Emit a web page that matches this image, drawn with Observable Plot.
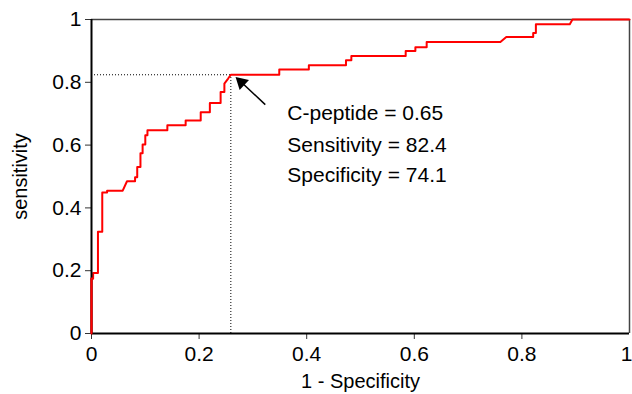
<!DOCTYPE html>
<html>
<head>
<meta charset="utf-8">
<script src="https://cdn.jsdelivr.net/npm/d3@7"></script>
<script src="https://cdn.jsdelivr.net/npm/@observablehq/plot@0.6"></script>
<style>
  html, body { margin: 0; padding: 0; background: #fff; }
  #chart svg { display: block; }
</style>
</head>
<body>
<div id="chart"></div>
<script>
// ROC curve vertices (1 - specificity, sensitivity)
const fpr = [0, 0, 0.003, 0.003, 0.012, 0.012, 0.020, 0.020, 0.029, 0.029, 0.058, 0.066, 0.081, 0.081, 0.085, 0.085, 0.091, 0.091, 0.095, 0.095, 0.100, 0.100, 0.104, 0.104, 0.141, 0.141, 0.175, 0.175, 0.203, 0.203, 0.220, 0.220, 0.240, 0.240, 0.247, 0.247, 0.254, 0.259, 0.349, 0.349, 0.404, 0.404, 0.473, 0.473, 0.483, 0.483, 0.584, 0.584, 0.602, 0.602, 0.623, 0.623, 0.760, 0.771, 0.821, 0.821, 0.826, 0.826, 0.889, 0.894, 1];
const tpr = [0, 0.175, 0.175, 0.193, 0.193, 0.324, 0.324, 0.449, 0.449, 0.455, 0.455, 0.485, 0.485, 0.498, 0.498, 0.530, 0.530, 0.574, 0.574, 0.602, 0.602, 0.631, 0.631, 0.647, 0.647, 0.663, 0.663, 0.678, 0.678, 0.705, 0.705, 0.734, 0.734, 0.769, 0.769, 0.796, 0.812, 0.824, 0.824, 0.841, 0.841, 0.854, 0.854, 0.870, 0.870, 0.884, 0.884, 0.900, 0.900, 0.912, 0.912, 0.928, 0.928, 0.944, 0.944, 0.957, 0.957, 0.985, 0.985, 1, 1];

// optimal cut-off point
const cutFpr = [0.259];
const cutTpr = [0.824];

// annotation text
const annoLines = ["C-peptide = 0.65", "Sensitivity = 82.4", "Specificity = 74.1"];
const annoX = [0.364, 0.364, 0.364];
const annoY = [0.700, 0.599, 0.503];

// arrow (tail -> head) in data units
const arrowTail = [0.323, 0.729];
const arrowHead = [0.2786, 0.800];

const xTicks = [0, 0.2, 0.4, 0.6, 0.8];
const xTickLast = [1];
const yTicks = [0, 0.2, 0.4, 0.6, 0.8, 1];
const tickLabel = d => d3.format("~g")(d);

const roc = fpr.map((f, i) => ({fpr: f, tpr: tpr[i]}));
const anno = annoLines.map((t, i) => ({text: t, x: annoX[i], y: annoY[i]}));

const font = "'Liberation Sans', Arial, Helvetica, sans-serif";

const chart = Plot.plot({
  width: 632,
  height: 394,
  marginLeft: 91,
  marginRight: 3,
  marginTop: 19,
  marginBottom: 61,
  style: {fontFamily: font, fontSize: "20px", color: "#000", background: "#fff"},
  x: {domain: [0, 1]},
  y: {domain: [0, 1]},
  marks: [
    // frame: top & right thin gray
    Plot.ruleY([1], {stroke: "#444", strokeWidth: 1.5}),
    Plot.ruleX([1], {stroke: "#444", strokeWidth: 1.5}),
    // dotted guides
    Plot.ruleY(cutTpr, {x1: 0, x2: cutFpr[0], stroke: "#000", strokeWidth: 1, strokeDasharray: "1,2"}),
    Plot.ruleX(cutFpr, {y1: 0, y2: cutTpr[0], stroke: "#000", strokeWidth: 1, strokeDasharray: "1,2"}),
    // ROC curve
    Plot.line(roc, {x: "fpr", y: "tpr", stroke: "red", strokeWidth: 2}),
    // axes
    Plot.axisX({ticks: xTicks, tickFormat: tickLabel, tickSize: 6, tickPadding: 7, label: null, stroke: "#333", fontSize: 21}),
    Plot.axisX({ticks: xTickLast, tickFormat: tickLabel, tickSize: 6, tickPadding: 7, label: null, stroke: "#333", fontSize: 21, textAnchor: "end", dx: 3}),
    Plot.axisY({ticks: yTicks, tickFormat: tickLabel, tickSize: 6, tickPadding: 4, label: null, stroke: "#333", fontSize: 21}),
    Plot.ruleY([0], {stroke: "#000", strokeWidth: 2}),
    Plot.ruleX([0], {stroke: "#000", strokeWidth: 2}),
    // red curve over axis at x=0
    Plot.line(roc.slice(0, 3), {x: "fpr", y: "tpr", stroke: "red", strokeWidth: 2}),
    // axis labels
    Plot.text(["1 - Specificity"], {frameAnchor: "bottom", dy: 54, fontSize: 20}),
    Plot.text(["sensitivity"], {frameAnchor: "left", textAnchor: "middle", dx: -71, rotate: -90, fontSize: 20}),
    // arrow
    Plot.link([0], {x1: arrowTail[0], y1: arrowTail[1], x2: arrowHead[0], y2: arrowHead[1], stroke: "#000", strokeWidth: 1.5}),
    Plot.dot([0], {x: arrowHead[0], y: arrowHead[1], symbol: "triangle", r: 5.1, fill: "#000", stroke: "none", rotate: -47}),
    // annotation
    Plot.text(anno, {x: "x", y: "y", text: "text", textAnchor: "start", fontSize: 21, fill: "#000"})
  ]
});

document.getElementById("chart").appendChild(chart);
</script>
</body>
</html>
